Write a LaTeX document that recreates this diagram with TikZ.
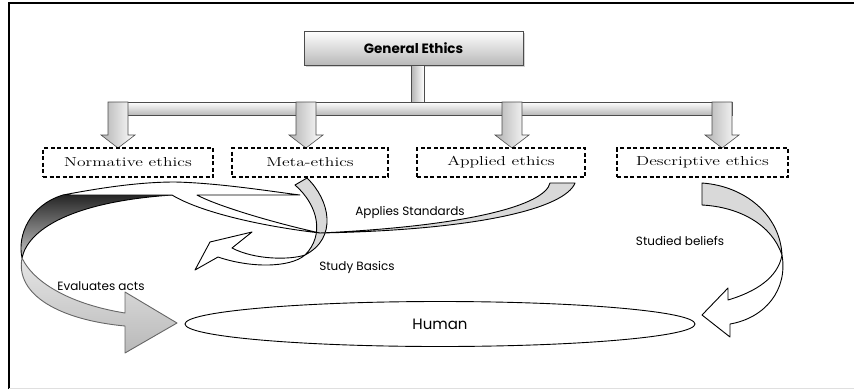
\documentclass[tikz,border=0pt]{standalone}
\usepackage{fontspec}
\usepackage{graphicx}
\newfontfamily\labelfont{Poppins}
\usetikzlibrary{positioning,shapes.geometric,shadows}

\newcommand{\serifwide}[1]{\scalebox{1.35}[1]{#1}}

\begin{document}
\begin{tikzpicture}[x=1pt,y=-1pt,
    ethicbox/.style={rectangle, draw=black, dash pattern=on 4pt off 2.5pt, line width=1.1pt, minimum height=29pt, inner sep=0pt, font=\fontsize{13}{13}\selectfont},
    flowlabel/.style={font=\labelfont\fontsize{12}{12}\selectfont},
    ribbon/.style={draw=black, line width=0.9pt, line join=round},
    pipe/.style={draw=black!70, line width=0.6pt}
  ]
  \useasboundingbox (0,0) rectangle (854,389);

  % frame
  \draw[line width=1.4pt] (9,389) -- (9,3) -- (854,3);
  \draw[gray!25] (9,388) -- (854,388);

  % top of the tree
  \node (gen) [rectangle, draw=black!70, top color=white, bottom color=gray!55, minimum width=219pt, minimum height=34pt,
    drop shadow={shadow xshift=1.5pt, shadow yshift=-1.5pt, opacity=0.35},
    font=\labelfont\bfseries\fontsize{13.5}{13.5}\selectfont] at (413.5,48) {General Ethics};
  \draw[pipe, left color=gray!60, right color=white] (411,65) rectangle (424,102);
  \draw[pipe, top color=white, bottom color=gray!55] (108,102) rectangle (732,115);
  \foreach \cx in {118,306,512,722} {
    \draw[pipe, left color=gray!60, right color=white]
      (\cx-10,102) -- (\cx-10,135) -- (\cx-17,135) -- (\cx,148) -- (\cx+17,135) -- (\cx+10,135) -- (\cx+10,102) -- cycle;
  }

  % the four branches
  \node (norm) [ethicbox, minimum width=170pt] at (128,162.5) {\serifwide{Normative ethics}};
  \node (meta) [ethicbox, minimum width=156pt] at (310,162.5) {\serifwide{Meta-ethics}};
  \node (appl) [ethicbox, minimum width=168pt] at (501,162.5) {\serifwide{Applied ethics}};
  \node (desc) [ethicbox, minimum width=171pt] at (702.5,162.5) {\serifwide{Descriptive ethics}};

  % evaluates acts
  \draw[ribbon, top color=black!85, bottom color=gray!45] (63,195) .. controls (30,205) and (17,235) .. (22,258)
    .. controls (28,230) and (70,202) .. (172,195) -- cycle;
  \draw[ribbon, draw=black!60, top color=gray!20, bottom color=gray!55] (22,258) .. controls (15,295) and (60,320) .. (125,326)
    -- (125,353) -- (177,323) -- (125,292) -- (125,313) .. controls (75,305) and (35,285) .. (22,258) -- cycle;

  % study basics
  \draw[ribbon, fill=gray!30] (295,185) -- (307,178) .. controls (330,200) and (338,238) .. (305,255)
    .. controls (325,235) and (318,205) .. (295,185) -- cycle;
  \draw[ribbon, fill=white] (305,255) .. controls (290,268) and (250,268) .. (218,257) -- (195,270) -- (210,242) -- (252,232)
    -- (232,248) .. controls (255,260) and (290,260) .. (305,255) -- cycle;

  % applies standards
  \draw[ribbon, fill=gray!30] (550,183) -- (575,183) .. controls (565,208) and (480,230) .. (320,233)
    .. controls (470,226) and (545,205) .. (550,183) -- cycle;
  \draw[ribbon, fill=white] (320,233) .. controls (260,226) and (200,212) .. (172,195) -- (63,195)
    .. controls (110,186) and (145,182) .. (175,182) .. controls (220,183) and (275,192) .. (300,195)
    -- (197,195) .. controls (215,205) and (270,222) .. (320,233) -- cycle;

  % studied beliefs
  \draw[ribbon, fill=gray!30] (702,205) -- (702,183) .. controls (745,186) and (780,215) .. (782,255)
    .. controls (772,225) and (740,207) .. (702,205) -- cycle;
  \draw[ribbon, fill=white] (782,255) .. controls (788,290) and (765,318) .. (730,324) -- (730,337) -- (702,315)
    -- (728,288) -- (728,300) .. controls (755,292) and (778,278) .. (782,255) -- cycle;

  % human
  \node (human) [ellipse, draw=black, line width=0.9pt, minimum width=510pt, minimum height=45pt, inner sep=0pt,
    font=\labelfont\fontsize{15}{15}\selectfont] at (440,324) {Human};

  \node (applies) [flowlabel] at (410,212) {Applies Standards};
  \node (basics) [flowlabel] at (357,267) {Study Basics};
  \node (evaluates) [flowlabel] at (101,286) {Evaluates acts};
  \node (beliefs) [flowlabel] at (680,241) {Studied beliefs};
\end{tikzpicture}
\end{document}
